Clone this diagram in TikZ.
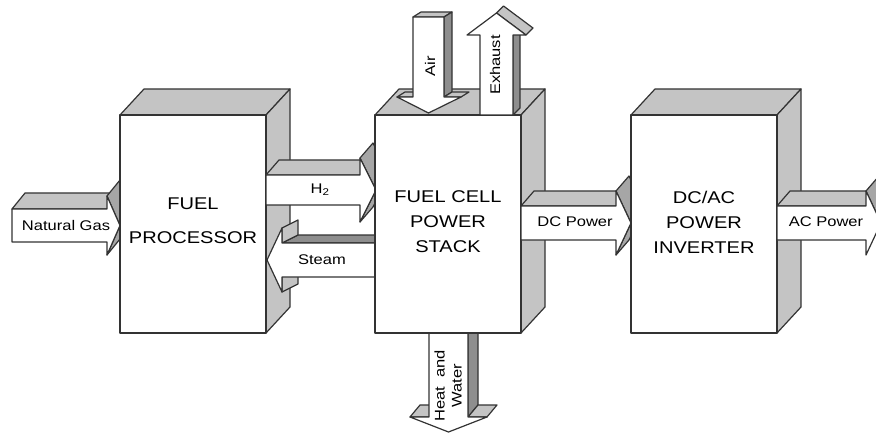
\documentclass[tikz,border=0pt]{standalone}
\usepackage{fontspec}
\setmainfont{Liberation Sans}[FakeStretch=1.18]
\definecolor{facelight}{HTML}{C4C4C4}
\definecolor{facemid}{HTML}{A6A6A6}
\definecolor{facedark}{HTML}{8E8E8E}
\definecolor{edgegray}{HTML}{333333}
\tikzset{
    front/.style={fill=white, draw=edgegray, line width=1.2pt, line join=round},
    lightface/.style={fill=facelight, draw=edgegray, line width=1.2pt, line join=round},
    midface/.style={fill=facemid, draw=edgegray, line width=1.2pt, line join=round},
    darkface/.style={fill=facedark, draw=edgegray, line width=1.2pt, line join=round},
    mainlabel/.style={align=center, font=\fontsize{17}{25}\selectfont},
    flowlabel/.style={align=center, font=\fontsize{14}{17}\selectfont},
    block/.pic={
        \filldraw[lightface] (0,0) -- (24,-26) -- (170,-26) -- (146,0) -- cycle;
        \filldraw[lightface] (146,0) -- (170,-26) -- (170,192) -- (146,218) -- cycle;
        \filldraw[front] (0,0) rectangle (146,218);
    }
}
\begin{document}
\begin{tikzpicture}[x=1pt, y=-1pt]
    \useasboundingbox (0,0) rectangle (876,433);
    \clip (0,0) rectangle (876,433);
    % Natural gas in
    \filldraw[lightface] (12,209) -- (107,209) -- (120,193) -- (25,193) -- cycle;
    \filldraw[midface] (107,196) -- (120,225.5) -- (133,209.5) -- (120,180) -- cycle;
    \filldraw[midface] (120,225.5) -- (107,255) -- (120,239) -- (133,209.5) -- cycle;
    \filldraw[front] (12,209) -- (107,209) -- (107,196) -- (120,225.5) -- (107,255) -- (107,242) -- (12,242) -- cycle;
    \node[flowlabel] (gas) at (66,225) {Natural Gas};
    % Fuel processor
    \pic at (120,115) {block};
    \node[mainlabel, font=\fontsize{17}{34}\selectfont] (proc) at (193,221) {FUEL\\PROCESSOR};
    % H2 to the stack
    \filldraw[lightface] (266,175) -- (360,175) -- (373,160) -- (279,160) -- cycle;
    \filldraw[midface] (360,158) -- (376,190) -- (389,175) -- (373,143) -- cycle;
    \filldraw[midface] (376,190) -- (360,222) -- (373,207) -- (389,175) -- cycle;
    \filldraw[front] (266,175) -- (360,175) -- (360,158) -- (376,190) -- (360,222) -- (360,205) -- (266,205) -- cycle;
    \node[flowlabel] (h2) at (320,190) {H\textsubscript{2}};
    % Steam back to the processor
    \filldraw[darkface] (282,243) -- (375,243) -- (391,235) -- (298,235) -- cycle;
    \filldraw[lightface] (282,228) -- (282,243) -- (298,235) -- (298,220) -- cycle;
    \filldraw[lightface] (282,277) -- (282,292) -- (298,284) -- (298,269) -- cycle;
    \filldraw[front] (375,243) -- (282,243) -- (282,228) -- (267,260) -- (282,292) -- (282,277) -- (375,277) -- cycle;
    \node[flowlabel] (steam) at (322,260) {Steam};
    % Heat and water out
    \filldraw[darkface] (468,333) -- (478,321) -- (478,405) -- (468,417) -- cycle;
    \filldraw[lightface] (410,417) -- (429,417) -- (439,405) -- (420,405) -- cycle;
    \filldraw[lightface] (468,417) -- (487,417) -- (497,405) -- (478,405) -- cycle;
    \filldraw[front] (429,333) -- (429,417) -- (410,417) -- (448.5,432) -- (487,417) -- (468,417) -- (468,333) -- cycle;
    \node[flowlabel, rotate=90] (heat) at (448,386) {Heat\ \ and\\Water};
    % Fuel cell stack
    \pic at (375,115) {block};
    \node[mainlabel] (stack) at (448,222) {FUEL CELL\\POWER\\STACK};
    % DC power to the inverter
    \filldraw[lightface] (521,206) -- (616,206) -- (629,191) -- (534,191) -- cycle;
    \filldraw[midface] (616,191) -- (631,223) -- (644,208) -- (629,176) -- cycle;
    \filldraw[midface] (631,223) -- (616,255) -- (629,240) -- (644,208) -- cycle;
    \filldraw[front] (521,206) -- (616,206) -- (616,191) -- (631,223) -- (616,255) -- (616,240) -- (521,240) -- cycle;
    \node[flowlabel] (dcp) at (575,222) {DC Power};
    % Air in
    \filldraw[lightface] (413,17) -- (444,17) -- (452,12) -- (421,12) -- cycle;
    \filldraw[darkface] (444,17) -- (452,12) -- (452,92) -- (444,97) -- cycle;
    \filldraw[lightface] (397,97) -- (413,97) -- (421,92) -- (405,92) -- cycle;
    \filldraw[lightface] (444,97) -- (461,97) -- (469,92) -- (452,92) -- cycle;
    \filldraw[front] (413,17) -- (444,17) -- (444,97) -- (461,97) -- (428.5,113) -- (397,97) -- (413,97) -- cycle;
    \node[flowlabel, rotate=90] (air) at (430,66) {Air};
    % Exhaust out
    \filldraw[darkface] (513,115) -- (520,108) -- (520,28) -- (513,35) -- cycle;
    \filldraw[lightface] (496.5,13) -- (526,35) -- (533,28) -- (503.5,6) -- cycle;
    \filldraw[front] (480,115) -- (480,35) -- (467,35) -- (496.5,13) -- (526,35) -- (513,35) -- (513,115) -- cycle;
    \node[flowlabel, rotate=90] (exhaust) at (495,65) {Exhaust};
    % DC/AC inverter
    \pic at (631,115) {block};
    \node[mainlabel] (inv) at (704,222) {DC/AC\\POWER\\INVERTER};
    % AC power out
    \filldraw[lightface] (777,206) -- (866,206) -- (879,191) -- (790,191) -- cycle;
    \filldraw[midface] (866,191) -- (881,223) -- (894,208) -- (879,176) -- cycle;
    \filldraw[front] (777,206) -- (866,206) -- (866,191) -- (881,223) -- (866,255) -- (866,240) -- (777,240) -- cycle;
    \node[flowlabel] (acp) at (826,222) {AC Power};
\end{tikzpicture}
\end{document}
